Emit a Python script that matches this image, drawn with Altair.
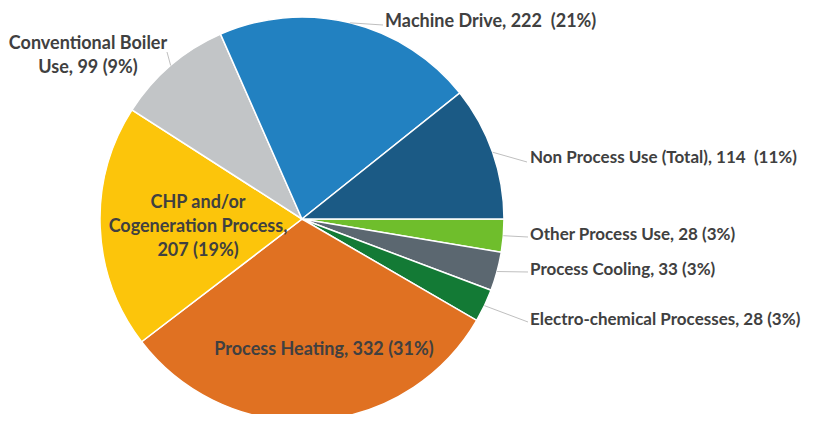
import altair as alt
import pandas as pd
import numpy as np

# ---- data (clockwise from 3 o'clock) ----
categories = ["Other Process Use", "Process Cooling", "Electro-chemical Processes",
              "Process Heating", "CHP and/or Cogeneration Process",
              "Conventional Boiler Use", "Machine Drive", "Non Process Use (Total)"]
values = [28, 33, 28, 332, 207, 99, 222, 114]
percents = [3, 3, 3, 31, 19, 9, 21, 11]
label_text = ["Other Process Use, 28 (3%)",
              "Process Cooling, 33 (3%)",
              "Electro-chemical Processes, 28 (3%)",
              "Process Heating, 332 (31%)",
              "CHP and/or\nCogeneration Process,\n207 (19%)",
              "Conventional Boiler\nUse, 99 (9%)",
              "Machine Drive, 222\u00a0 (21%)",
              "Non Process Use (Total), 114\u00a0 (11%)"]
colors = ["#6fbe2c", "#5b6770", "#137a35", "#e07122", "#fcc50b", "#c2c5c7", "#2281c1", "#1b5a85"]

# ---- layout (pixels) ----
CX, CY, R = 294, 211, 202
# label anchor (x, y of first line), group, leader end (x, y) or None
label_layout = {
    "Other Process Use": (522, 227, "right", (520, 229)),
    "Process Cooling": (522, 262, "right", (520, 264)),
    "Electro-chemical Processes": (522, 312, "right", (520, 314)),
    "Process Heating": (316, 342, "center", None),
    "CHP and/or Cogeneration Process": (190, 195, "center", None),
    "Conventional Boiler Use": (80, 36, "center", (159, 44)),
    "Machine Drive": (377, 14, "left", (375, 17)),
    "Non Process Use (Total)": (522, 150, "right", (519, 154)),
}

df = pd.DataFrame({"category": categories, "value": values, "pct": percents,
                   "label": label_text, "idx": list(range(len(categories)))})

total = float(sum(values))
cum = np.cumsum(values)
mid = (cum - np.array(values) / 2.0) / total * 2 * np.pi  # clockwise from 3 o'clock
df["ex"] = CX + R * np.cos(mid)
df["ey"] = CY + R * np.sin(mid)
df["lx"] = [label_layout[c][0] for c in categories]
df["ly"] = [label_layout[c][1] for c in categories]
df["grp"] = [label_layout[c][2] for c in categories]
df["tx"] = [label_layout[c][3][0] if label_layout[c][3] else None for c in categories]
df["ty"] = [label_layout[c][3][1] if label_layout[c][3] else None for c in categories]

pie = alt.Chart(df).mark_arc(outerRadius=R, stroke="white", strokeWidth=1.5).encode(
    theta=alt.Theta("value:Q", stack=True,
                    scale=alt.Scale(range=[np.pi / 2, np.pi / 2 + 2 * np.pi])),
    color=alt.Color("category:N", scale=alt.Scale(domain=categories, range=colors), legend=None),
    order=alt.Order("idx:Q"),
    x=alt.value(CX),
    y=alt.value(CY),
)

lines_df = df[df["tx"].notna()]
leaders = alt.Chart(lines_df).mark_rule(color="#bfbfbf", strokeWidth=1).encode(
    x=alt.X("ex:Q", scale=None), y=alt.Y("ey:Q", scale=None),
    x2="tx:Q", y2="ty:Q",
)

text_style = dict(baseline="middle", font="Lato", fontWeight="bold",
                  color="#404040", lineBreak="\n", lineHeight=24)


def label_layer(grp, align, size):
    return alt.Chart(df[df["grp"] == grp]).mark_text(align=align, fontSize=size, **text_style).encode(
        x=alt.X("lx:Q", scale=None), y=alt.Y("ly:Q", scale=None), text="label:N")


chart = alt.layer(
    pie, leaders,
    label_layer("left", "left", 18),
    label_layer("right", "left", 17),
    label_layer("center", "center", 18),
).properties(
    width=805, height=406, autosize="none", padding=0
).configure_view(strokeWidth=0)

chart.save("out.html", embed_options={"renderer": "svg", "actions": False})
